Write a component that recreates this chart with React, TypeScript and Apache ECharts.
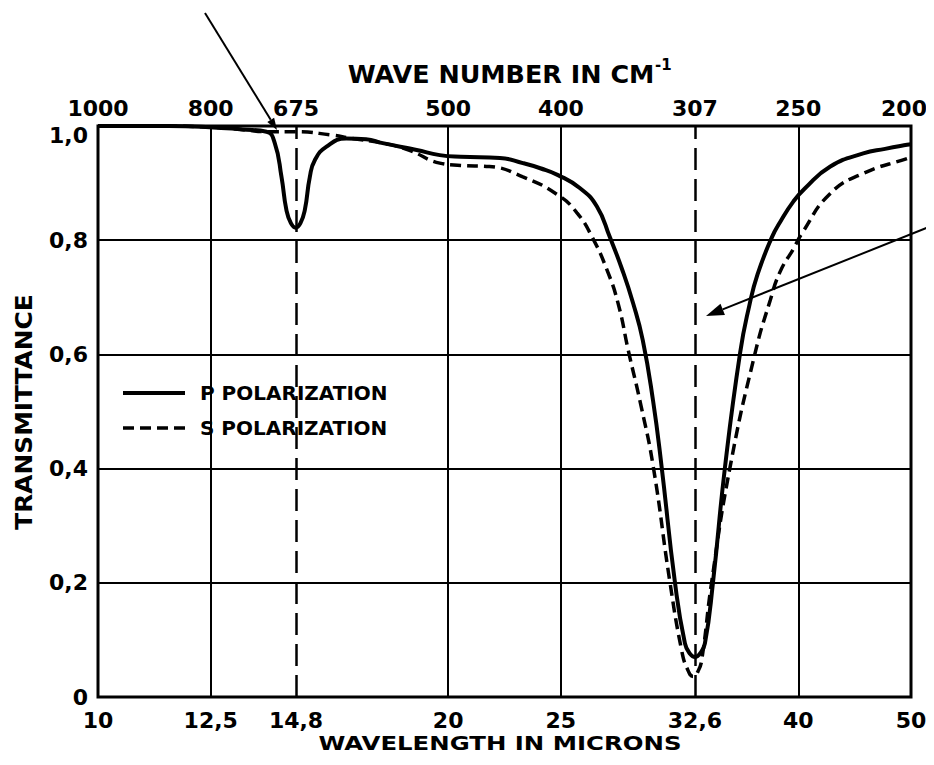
import React, { useEffect, useRef } from "react";
import * as echarts from "echarts";

// ---- data ----
const tickWavelengths = [10, 12.5, 14.8, 20, 25, 32.6, 40, 50];
const bottomTickLabels = ["10", "12,5", "14,8", "20", "25", "32,6", "40", "50"];
const topTickLabels = ["1000", "800", "675", "500", "400", "307", "250", "200"];
const solidGridX = [12.5, 20, 25, 40];
const dashedGridX = [14.8, 32.6];

const wavelengthP = [10, 11.5, 12.47, 13.3, 13.96, 14.19, 14.38, 14.52, 14.65, 14.79, 14.93, 15.06, 15.21, 15.36, 15.72, 16.35, 17.0, 17.57, 18.79, 19.67, 20.5, 22.16, 23.19, 24.0, 24.86, 25.97, 26.85, 27.55, 28.21, 28.84, 29.4, 30.0, 30.52, 31.33, 31.96, 32.3, 32.6, 32.9, 33.25, 33.79, 34.6, 35.65, 36.3, 36.9, 37.96, 38.59, 39.62, 40.5, 42.62, 45.49, 47.5, 49.61, 50];
const transP = [1.0, 1.0, 0.998, 0.994, 0.99, 0.97, 0.911, 0.853, 0.83, 0.822, 0.83, 0.853, 0.911, 0.94, 0.964, 0.978, 0.977, 0.97, 0.958, 0.949, 0.946, 0.944, 0.935, 0.926, 0.914, 0.891, 0.859, 0.805, 0.75, 0.69, 0.625, 0.52, 0.403, 0.202, 0.094, 0.075, 0.07, 0.075, 0.094, 0.202, 0.403, 0.603, 0.685, 0.74, 0.805, 0.832, 0.868, 0.89, 0.929, 0.952, 0.96, 0.967, 0.968];

const wavelengthS = [10, 11.5, 12.47, 13.3, 13.96, 14.8, 15.9, 16.46, 17.57, 18.5, 19.67, 20.5, 21.7, 23.19, 24.86, 25.81, 26.59, 27.39, 28.01, 28.57, 29.3, 30.02, 31.02, 31.75, 32.1, 32.49, 32.8, 33.04, 33.7, 34.95, 36.73, 37.84, 38.59, 39.62, 40.29, 42.62, 45.49, 49.61, 50];
const transS = [1.0, 1.0, 0.998, 0.994, 0.99, 0.99, 0.984, 0.979, 0.97, 0.958, 0.935, 0.931, 0.929, 0.911, 0.879, 0.848, 0.806, 0.748, 0.688, 0.607, 0.51, 0.403, 0.202, 0.082, 0.05, 0.036, 0.045, 0.065, 0.202, 0.403, 0.603, 0.695, 0.745, 0.785, 0.812, 0.882, 0.917, 0.943, 0.945];

const FONT = "DejaVu Sans";

function nearestIndex(v: number) {
  let best = 0;
  let bd = Infinity;
  tickWavelengths.forEach((t, i) => {
    const d = Math.abs(Math.log(t) - Math.log(v));
    if (d < bd) {
      bd = d;
      best = i;
    }
  });
  return best;
}

function arrow(x1: number, y1: number, x2: number, y2: number, len: number, half: number) {
  const dx = x2 - x1;
  const dy = y2 - y1;
  const l = Math.sqrt(dx * dx + dy * dy);
  const ux = dx / l;
  const uy = dy / l;
  const bx = x2 - ux * len;
  const by = y2 - uy * len;
  const px = -uy;
  const py = ux;
  return [
    {
      type: "line",
      shape: { x1, y1, x2: bx, y2: by },
      style: { stroke: "#000", lineWidth: 2 },
      silent: true,
    },
    {
      type: "polygon",
      shape: {
        points: [
          [x2, y2],
          [bx + px * half, by + py * half],
          [bx - px * half, by - py * half],
        ],
      },
      style: { fill: "#000" },
      silent: true,
    },
  ];
}

export default function App() {
  const ref = useRef<HTMLDivElement>(null);

  useEffect(() => {
    if (!ref.current) return;
    const chart = echarts.init(ref.current, undefined, { renderer: "svg" });

    const labelStyle = {
      fontFamily: FONT,
      fontWeight: "bold" as const,
      fontSize: 22,
      color: "#000",
    };

    const option: any = {
      animation: false,
      backgroundColor: "#fff",
      grid: {
        left: 98,
        right: 23,
        top: 126,
        bottom: 68,
        show: true,
        borderColor: "#000",
        borderWidth: 3,
        backgroundColor: "transparent",
      },
      legend: {
        orient: "vertical",
        left: 116,
        top: 378,
        itemWidth: 62,
        itemHeight: 14,
        itemGap: 15,
        data: ["P POLARIZATION", "S POLARIZATION"],
        itemStyle: { opacity: 0 },
        lineStyle: { width: "inherit" },
        textStyle: {
          fontFamily: FONT,
          fontWeight: "bold",
          fontSize: 20,
          color: "#000",
          padding: [0, 0, 0, 10],
        },
        selectedMode: false,
      },
      xAxis: [
        {
          type: "log",
          logBase: 10,
          min: 10,
          max: 50,
          position: "bottom",
          axisLine: { show: false },
          axisTick: { show: false },
          splitLine: { show: false },
          axisLabel: {
            ...labelStyle,
            margin: 12,
            customValues: tickWavelengths,
            formatter: (v: number) => bottomTickLabels[nearestIndex(v)],
          },
        },
        {
          type: "log",
          logBase: 10,
          min: 10,
          max: 50,
          position: "top",
          axisLine: { show: false },
          axisTick: { show: false },
          splitLine: { show: false },
          axisLabel: {
            ...labelStyle,
            margin: 7,
            customValues: tickWavelengths,
            formatter: (v: number) => {
              const i = nearestIndex(v);
              return i === tickWavelengths.length - 1
                ? "{edge|" + topTickLabels[i] + "}"
                : topTickLabels[i];
            },
            rich: {
              edge: { ...labelStyle, padding: [0, 14, 0, 0] },
            },
          },
        },
      ],
      yAxis: {
        type: "value",
        min: 0,
        max: 1,
        interval: 0.2,
        axisLine: { show: false },
        axisTick: { show: false },
        splitLine: { show: true, lineStyle: { color: "#000", width: 2 } },
        axisLabel: {
          ...labelStyle,
          margin: 10,
          formatter: (v: number) =>
            v === 0
              ? "0"
              : v >= 1
              ? "{low|" + v.toFixed(1).replace(".", ",") + "}"
              : v.toFixed(1).replace(".", ","),
          rich: {
            low: { ...labelStyle, padding: [18, 0, 0, 0] },
          },
        },
      },
      series: [
        {
          name: "P POLARIZATION",
          type: "line",
          xAxisIndex: 0,
          symbol: "none",
          smooth: 0.5,
          lineStyle: { color: "#000", width: 4 },
          itemStyle: { color: "#000" },
          data: wavelengthP.map((x, i) => [x, transP[i]]),
          z: 3,
          markLine: {
            silent: true,
            symbol: ["none", "none"],
            label: { show: false },
            animation: false,
            data: [
              ...solidGridX.map((x) => ({
                xAxis: x,
                lineStyle: { color: "#000", width: 2, type: "solid" },
              })),
              ...dashedGridX.map((x) => ({
                xAxis: x,
                lineStyle: { color: "#000", width: 2.5, type: [22, 9] },
              })),
            ],
          },
        },
        {
          name: "S POLARIZATION",
          type: "line",
          xAxisIndex: 0,
          symbol: "none",
          smooth: 0.5,
          lineStyle: { color: "#000", width: 3.5, type: [11, 6] },
          itemStyle: { color: "#000" },
          data: wavelengthS.map((x, i) => [x, transS[i]]),
          z: 3,
        },
      ],
      graphic: [
        {
          type: "text",
          x: 501,
          y: 75,
          scaleX: 1.06,
          style: {
            text: "WAVE NUMBER IN CM",
            fontFamily: FONT,
            fontWeight: "bold",
            fontSize: 24,
            fill: "#000",
            textAlign: "center",
            textVerticalAlign: "middle",
          },
        },
        {
          type: "text",
          x: 655,
          y: 65,
          style: {
            text: "-1",
            fontFamily: FONT,
            fontWeight: "bold",
            fontSize: 15,
            fill: "#000",
            textAlign: "left",
            textVerticalAlign: "middle",
          },
        },
        {
          type: "text",
          x: 500,
          y: 743,
          scaleX: 1.22,
          style: {
            text: "WAVELENGTH IN MICRONS",
            fontFamily: FONT,
            fontWeight: "bold",
            fontSize: 20,
            fill: "#000",
            textAlign: "center",
            textVerticalAlign: "middle",
          },
        },
        {
          type: "text",
          x: 24,
          y: 412,
          rotation: Math.PI / 2,
          scaleX: 1.08,
          style: {
            text: "TRANSMITTANCE",
            fontFamily: FONT,
            fontWeight: "bold",
            fontSize: 23,
            fill: "#000",
            textAlign: "center",
            textVerticalAlign: "middle",
          },
        },
        ...arrow(205, 13, 277, 130, 12, 4),
        ...arrow(934, 225, 706, 316, 18, 6),
      ],
    };

    chart.setOption(option);
    return () => chart.dispose();
  }, []);

  return <div ref={ref} style={{ width: 934, height: 765, margin: -8 }} />;
}
